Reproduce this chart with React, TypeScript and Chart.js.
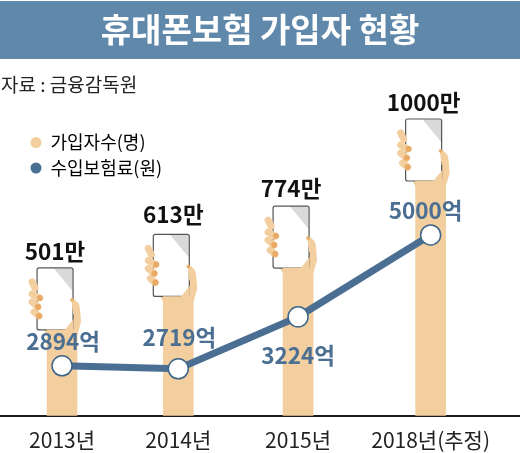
import React, { useEffect, useRef } from "react";
import { Chart, registerables } from "chart.js";

Chart.register(...registerables);

// ---- data ----
const years = ["2013년", "2014년", "2015년", "2018년(추정)"];
// Printed figures
const subscribers = [501, 613, 774, 1000]; // 만 명
const premiums = [2894, 2719, 3224, 5000]; // 억 원
// The source graphic is not drawn to scale, so marks follow the heights as drawn
const subscriberHeights = [501, 613, 708, 1000];
const premiumHeights = [2894, 2846, 3682, 5000];
// The columns are not evenly spaced in the source
const columnSlots = [0, 1, 2.03, 3.17];

const titleText = "휴대폰보험 가입자 현황";
const sourceText = "자료 : 금융감독원";
const subscriberName = "가입자수(명)";
const premiumName = "수입보험료(원)";

// ---- styles ----
const FONT = '"Noto Sans CJK KR", "Noto Sans", sans-serif';
const BANNER = "#5F88AB";
const SKIN = "#F3CFA0";
const NAIL = "#E9AA66";
const BLUE = "#4A6F92";
const DARK = "#1c1c1c";

// Label placement relative to each mark
const premiumLabelOffset = [-24, -31, 39, -24];
const premiumLabelShift = [1, 1, 0, -5];
const subscriberLabelGap = [16, 20, 18, 17];
const subscriberLabelShift = [-7, -5, -7, -7];

const handPlugin = {
  id: "handPlugin",
  beforeDraw(chart: any) {
    const { ctx, width } = chart;
    ctx.save();
    ctx.fillStyle = BANNER;
    ctx.fillRect(0, 1, width, 58);
    ctx.restore();
  },
  afterLayout(chart: any) {
    if (chart.legend) {
      chart.legend.left = 23;
      chart.legend.top = 126;
    }
  },
  beforeDatasetsDraw(chart: any) {
    const { ctx } = chart;
    const meta = chart.getDatasetMeta(0);
    meta.data.forEach((bar: any) => {
      const cx = bar.x;
      const py = bar.y - 62;
      const X = (d: number) => cx + d;
      const Y = (d: number) => py + d;
      ctx.save();
      // palm, wrist and outer thumb
      ctx.fillStyle = SKIN;
      ctx.beginPath();
      ctx.moveTo(X(-19), Y(60));
      ctx.lineTo(X(8), Y(60));
      ctx.lineTo(X(9), Y(30));
      ctx.quadraticCurveTo(X(18), Y(33), X(18), Y(42));
      ctx.lineTo(X(19), Y(54));
      ctx.lineTo(X(15), Y(68));
      ctx.lineTo(X(-15), Y(68));
      ctx.closePath();
      ctx.fill();
      // phone
      ctx.fillStyle = "#ffffff";
      ctx.strokeStyle = "#555555";
      ctx.lineWidth = 1.2;
      ctx.beginPath();
      ctx.roundRect(X(-25), Y(0), 36, 62, 2);
      ctx.fill();
      ctx.fillStyle = "#D9D9D9";
      ctx.beginPath();
      ctx.moveTo(X(-8), Y(0.5));
      ctx.lineTo(X(10.5), Y(0.5));
      ctx.lineTo(X(10.5), Y(23));
      ctx.closePath();
      ctx.fill();
      ctx.beginPath();
      ctx.roundRect(X(-25), Y(0), 36, 62, 2);
      ctx.stroke();
      // thumb and palm over the phone's edge
      ctx.fillStyle = SKIN;
      ctx.beginPath();
      ctx.moveTo(X(9), Y(30));
      ctx.quadraticCurveTo(X(18), Y(33), X(18), Y(46));
      ctx.lineTo(X(12), Y(46));
      ctx.lineTo(X(11), Y(46));
      ctx.closePath();
      ctx.fill();
      ctx.beginPath();
      ctx.moveTo(X(11.5), Y(51));
      ctx.lineTo(X(11.5), Y(63));
      ctx.lineTo(X(2), Y(63));
      ctx.closePath();
      ctx.fill();
      ctx.fillStyle = NAIL;
      ctx.beginPath();
      ctx.arc(X(10), Y(32), 1.8, 0, Math.PI * 2);
      ctx.fill();
      // fingers
      ctx.strokeStyle = SKIN;
      ctx.lineCap = "round";
      ctx.lineWidth = 7;
      const fingers = [
        [-30, 14, -27, 20],
        [-30, 26, -23, 30],
        [-30, 34, -24, 39],
        [-28, 44, -23, 48],
      ];
      fingers.forEach(([a, b, c, d]) => {
        ctx.beginPath();
        ctx.moveTo(X(a), Y(b));
        ctx.lineTo(X(c), Y(d));
        ctx.stroke();
      });
      ctx.fillStyle = NAIL;
      [
        [-22, 30],
        [-24, 39],
        [-23, 48],
      ].forEach(([a, b]) => {
        ctx.beginPath();
        ctx.arc(X(a), Y(b), 3, 0, Math.PI * 2);
        ctx.fill();
      });
      ctx.restore();
    });
  },
  afterDatasetsDraw(chart: any) {
    const { ctx } = chart;
    ctx.save();
    ctx.textAlign = "center";
    ctx.textBaseline = "middle";
    ctx.font = `bold 22.5px ${FONT}`;
    chart.getDatasetMeta(0).data.forEach((bar: any, i: number) => {
      ctx.fillStyle = "#111111";
      ctx.fillText(`${subscribers[i]}만`, bar.x + subscriberLabelShift[i], bar.y - 62 - subscriberLabelGap[i]);
    });
    chart.getDatasetMeta(1).data.forEach((pt: any, i: number) => {
      ctx.fillStyle = BLUE;
      ctx.fillText(`${premiums[i]}억`, pt.x + premiumLabelShift[i], pt.y + premiumLabelOffset[i]);
    });
    ctx.restore();
  },
};

export default function App() {
  const ref = useRef<HTMLCanvasElement | null>(null);
  useEffect(() => {
    if (!ref.current) return;
    const chart = new Chart(ref.current, {
      type: "bar",
      data: {
        datasets: [
          {
            type: "bar",
            label: subscriberName,
            data: columnSlots.map((x, i) => ({ x, y: subscriberHeights[i] })),
            backgroundColor: SKIN,
            barThickness: 30,
            yAxisID: "y",
            order: 1,
          },
          {
            type: "line",
            label: premiumName,
            data: columnSlots.map((x, i) => ({ x, y: premiumHeights[i] })),
            borderColor: BLUE,
            borderWidth: 7,
            backgroundColor: "#ffffff",
            pointBackgroundColor: "#ffffff",
            pointBorderColor: "#3E6689",
            pointBorderWidth: 1.5,
            pointRadius: 10,
            tension: 0,
            yAxisID: "y1",
            order: 0,
          },
        ],
      } as any,
      options: {
        responsive: false,
        animation: false,
        devicePixelRatio: 1,
        layout: { autoPadding: false, padding: { left: 1, right: 1, top: 0, bottom: 0 } },
        scales: {
          x: {
            type: "linear",
            min: -0.525,
            max: 3.93,
            offset: false,
            grid: { display: false, tickLength: 12 },
            border: { display: true, color: DARK, width: 2 },
            afterBuildTicks(scale: any) {
              scale.ticks = columnSlots.map((value) => ({ value }));
            },
            ticks: {
              autoSkip: false,
              maxRotation: 0,
              padding: 0,
              color: "#222222",
              font: { family: FONT, size: 21 },
              callback: (value: any) => years[columnSlots.indexOf(Number(value))] ?? "",
            },
          },
          y: { display: false, min: 213, max: 1238 },
          y1: { display: false, min: 2090, max: 7010 },
        },
        plugins: {
          tooltip: { enabled: false },
          title: {
            display: true,
            text: titleText,
            color: "#ffffff",
            font: { family: FONT, size: 33, weight: "bold" },
            padding: { top: 9.2, bottom: 10 },
          },
          subtitle: {
            display: true,
            text: sourceText,
            align: "start",
            color: "#222222",
            font: { family: FONT, size: 19, weight: "normal" },
            padding: { top: 14.8, bottom: 13.6 },
          },
          legend: {
            display: true,
            position: "chartArea",
            align: "start",
            labels: {
              usePointStyle: true,
              boxWidth: 11,
              boxHeight: 7.8,
              padding: 7.5,
              color: "#222222",
              font: { family: FONT, size: 18 },
              generateLabels: () => [
                { text: subscriberName, fillStyle: SKIN, strokeStyle: SKIN, lineWidth: 0, pointStyle: "circle", datasetIndex: 0 },
                { text: premiumName, fillStyle: BLUE, strokeStyle: BLUE, lineWidth: 0, pointStyle: "circle", datasetIndex: 1 },
              ],
            },
          },
        },
      } as any,
      plugins: [handPlugin],
    } as any);
    return () => chart.destroy();
  }, []);
  return (
    <div style={{ position: "fixed", left: 0, top: 0, width: 520, height: 453, background: "#fff" }}>
      <canvas ref={ref} width={520} height={453} style={{ display: "block" }} />
    </div>
  );
}
